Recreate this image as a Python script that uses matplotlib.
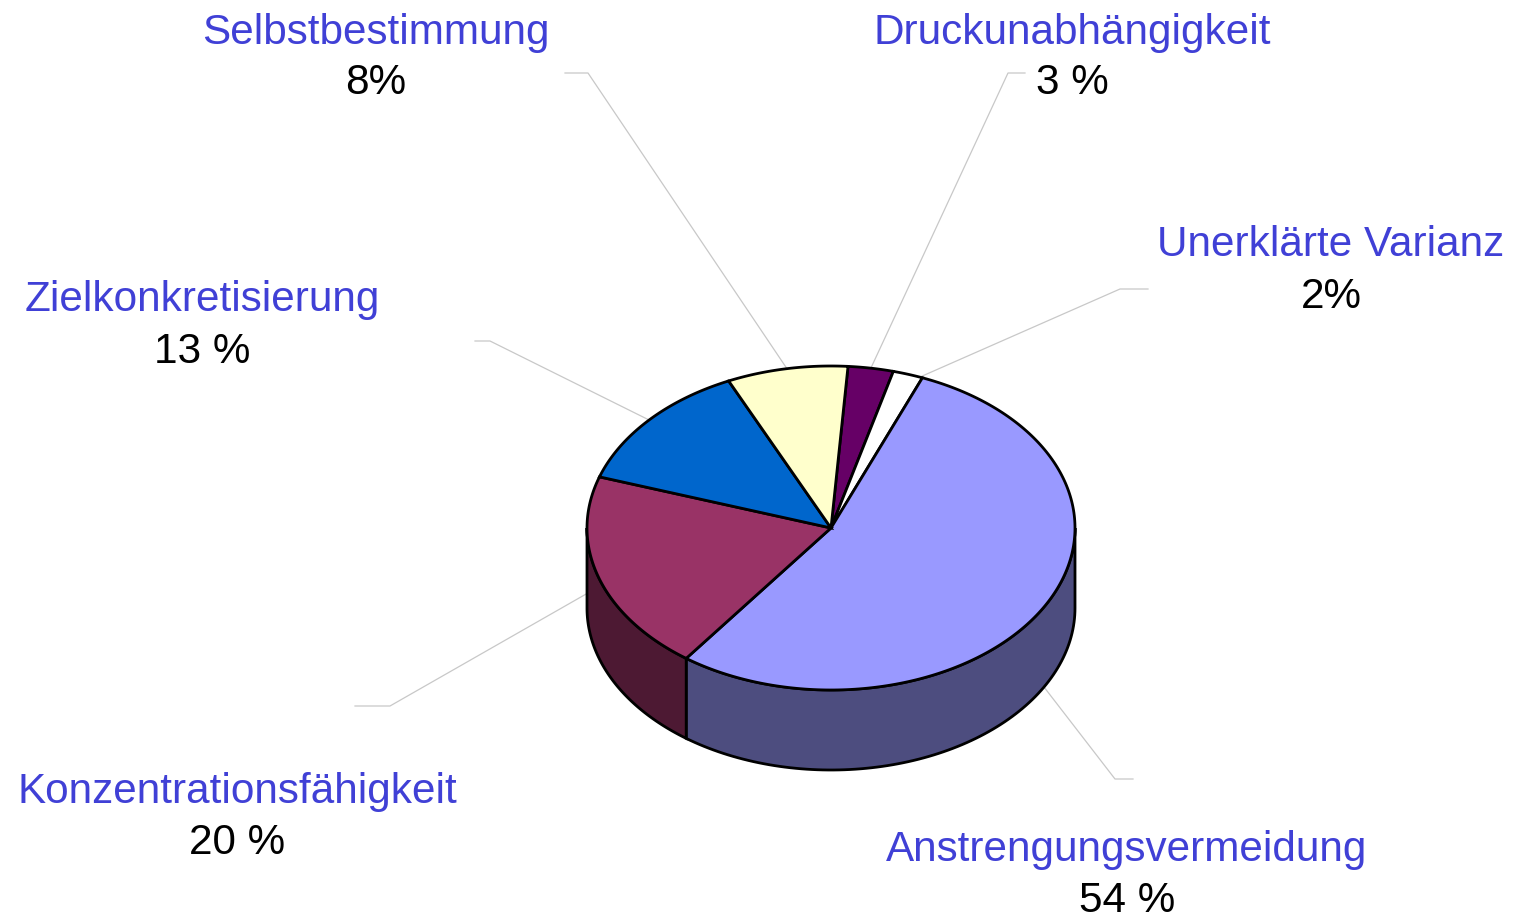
import numpy as np
import matplotlib.pyplot as plt

labels = ['Druckunabhängigkeit', 'Unerklärte Varianz', 'Anstrengungsvermeidung',
          'Konzentrationsfähigkeit', 'Zielkonkretisierung', 'Selbstbestimmung']
values = [3, 2, 54, 20, 13, 8]
pct_text = ['3 %', '2%', '54 %', '20 %', '13 %', '8%']
top_colors = ['#660066', '#FFFFFF', '#9999FF', '#993366', '#0066CC', '#FFFFCC']
side_colors = ['#330033', '#808080', '#4D4D7F', '#4D1933', '#003366', '#808066']

# label layout (pixel coords): text x, name baseline, pct baseline
label_x = [1072, 1331, 1127, 237, 202, 376]
name_y = [44, 256, 861, 803, 311, 44]
pct_y = [94, 308, 912, 854, 363, 94]
# leader line: horizontal stub (x0, x1, y) and extra drop at the slice end
stubs = [(1025, 1008, 73), (1148, 1120, 289), (1133, 1115, 779),
         (355, 390, 706), (475, 490, 341), (565, 588, 73)]
drop = [0, 8, 80, 10, 0, 0]

cx, cy, rx, ry, depth = 831, 528, 244, 162, 80
start = 4.0  # degrees clockwise from top

fig = plt.figure(figsize=(15.17, 9.18), dpi=100)
ax = fig.add_axes([0, 0, 1, 1])
ax.set_xlim(0, 1517)
ax.set_ylim(918, 0)
ax.axis('off')


def pt(t, dy=0.0):
    r = np.radians(t)
    return cx + rx * np.sin(r), cy - ry * np.cos(r) + dy


frac = np.array(values, dtype=float) / sum(values)
edges = start + 360 * np.concatenate([[0], np.cumsum(frac)])

# side walls (front half: 90..270 deg clockwise from top)
for i in range(len(values)):
    a0, a1 = max(edges[i], 90), min(edges[i + 1], 270)
    if a1 <= a0:
        continue
    t = np.linspace(a0, a1, 100)
    xs, ys = pt(t)
    px = np.concatenate([xs, xs[::-1]])
    py = np.concatenate([ys, ys[::-1] + depth])
    ax.fill(px, py, facecolor=side_colors[i], edgecolor='black', lw=2, zorder=2)

# top faces
for i in range(len(values)):
    t = np.linspace(edges[i], edges[i + 1], 200)
    xs, ys = pt(t)
    px = np.concatenate([[cx], xs, [cx]])
    py = np.concatenate([[cy], ys, [cy]])
    ax.fill(px, py, facecolor=top_colors[i], edgecolor='black', lw=2, zorder=3)

# labels and leader lines
for i in range(len(values)):
    mid = (edges[i] + edges[i + 1]) / 2
    ex, ey = pt(mid, drop[i])
    x0, x1, y = stubs[i]
    ax.plot([x0, x1, ex], [y, y, ey], color='#C8C8C8', lw=0.9, zorder=1)
    ax.text(label_x[i], name_y[i], labels[i], ha='center', va='baseline',
            fontsize=30.4, color='#4040D6', family='Liberation Sans')
    ax.text(label_x[i], pct_y[i], pct_text[i], ha='center', va='baseline',
            fontsize=30.4, color='black', family='Liberation Sans')

fig.savefig('out.png', dpi=100)
